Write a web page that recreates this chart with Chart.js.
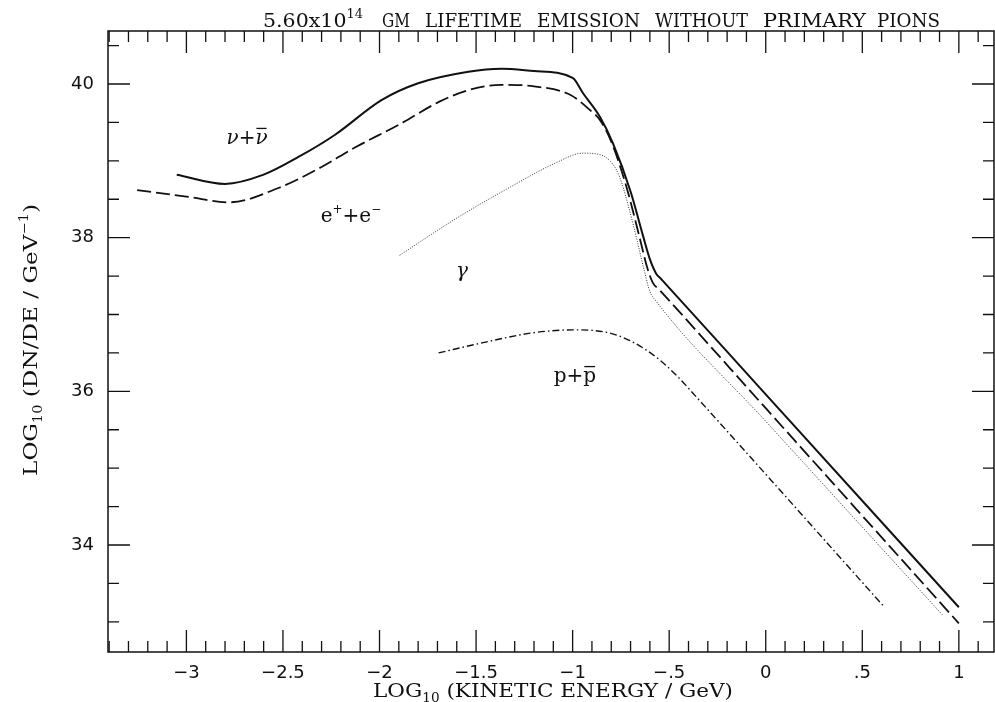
<!DOCTYPE html>
<html>
<head>
<meta charset="utf-8">
<script src="https://cdn.jsdelivr.net/npm/chart.js@4.4.1/dist/chart.umd.min.js"></script>
<style>
  html, body { margin: 0; padding: 0; background: #fff; }
  #wrap { position: relative; width: 995px; height: 702px; }
</style>
</head>
<body>
<div id="wrap"><canvas id="c" width="995" height="702"></canvas></div>
<script>
// log10 E (GeV) / log10 dN/dE
var nuX = [-3.05, -2.80, -2.60, -2.42, -2.23, -1.99, -1.80, -1.54, -1.37, -1.20, -1.00, -0.946, -0.858, -0.79, -0.70, -0.635, -0.60, -0.568, -0.54, 0.0, 1.0];
var nuY = [38.82, 38.70, 38.82, 39.05, 39.34, 39.79, 40.01, 40.16, 40.20, 40.17, 40.08, 39.88, 39.57, 39.22, 38.60, 38.02, 37.72, 37.535, 37.458, 35.96, 33.19];

var eeX = [-3.255, -2.99, -2.78, -2.52, -2.30, -2.13, -1.90, -1.69, -1.54, -1.37, -1.20, -1.013, -0.91, -0.858, -0.80, -0.72, -0.65, -0.615, -0.585, -0.55, 0.0, 1.0];
var eeY = [38.62, 38.53, 38.46, 38.65, 38.92, 39.17, 39.47, 39.77, 39.92, 39.99, 39.97, 39.86, 39.66, 39.53, 39.25, 38.65, 37.97, 37.62, 37.415, 37.32, 35.78, 32.98];

var gamX = [-1.896, -1.59, -1.35, -1.09, -0.946, -0.858, -0.79, -0.755, -0.71, -0.665, -0.63, -0.60, -0.565, 0.0, 0.915];
var gamY = [37.77, 38.27, 38.62, 38.97, 39.10, 39.08, 38.95, 38.78, 38.40, 37.95, 37.58, 37.30, 37.165, 35.61, 33.09];

var ppX = [-1.694, -1.47, -1.21, -1.00, -0.81, -0.68, -0.55, -0.44, -0.40, 0.615];
var ppY = [36.50, 36.63, 36.76, 36.80, 36.76, 36.63, 36.41, 36.15, 36.04, 33.19];

// axis ticks
var xMajor = [-3, -2.5, -2, -1.5, -1, -0.5, 0, 0.5, 1];
var xMajorText = ['\u22123', '\u22122.5', '\u22122', '\u22121.5', '\u22121', '\u2212.5', '0', '.5', '1'];
var yMajor = [34, 36, 38, 40];
var yMajorText = ['34', '36', '38', '40'];

// title words and the span each one takes in the figure
var titleWords = ['5.60x10|14', 'GM', 'LIFETIME', 'EMISSION', 'WITHOUT', 'PRIMARY', 'PIONS'];
var titleSpans = [[263, 363], [382, 410], [425, 522], [537, 640], [655, 748], [763, 866], [877, 940]];

// curve labels, anchored in data coords
var curveLabels = [
  { x: -2.686, y: 39.31, parts: [{ t: '\u03bd', it: 1 }, { t: '+' }, { t: '\u03bd', it: 1, over: 1 }] },
  { x: -2.148, y: 38.30, parts: [{ t: 'e' }, { t: '+', sup: 1 }, { t: '+e' }, { t: '\u2212', sup: 1 }] },
  { x: -1.573, y: 37.58, parts: [{ t: '\u03b3', it: 1 }] },
  { x: -0.988, y: 36.21, parts: [{ t: 'p+' }, { t: 'p', over: 1 }] }
];

var SERIF = '"DejaVu Serif", serif';
var SANS = '"DejaVu Sans", sans-serif';

function pts(xs, ys) {
  return xs.map(function (x, i) { return { x: x, y: ys[i] }; });
}

function partFont(p, size) {
  var s = (p.sub || p.sup) ? Math.round(size * 0.62) : size;
  return (p.it ? 'italic ' : '') + s + 'px ' + SERIF;
}

function richWidth(ctx, parts, size) {
  var w = 0;
  parts.forEach(function (p) { ctx.font = partFont(p, size); w += ctx.measureText(p.t).width; });
  return w;
}

// sub/superscripted text, left edge x, baseline y, optionally fitted to width fitW
function drawRich(ctx, parts, x, y, size, fitW) {
  var k = fitW ? fitW / richWidth(ctx, parts, size) : 1;
  ctx.save();
  ctx.translate(x, y);
  ctx.scale(k, 1);
  var cx = 0;
  parts.forEach(function (p) {
    ctx.font = partFont(p, size);
    var dy = p.sup ? -size * 0.45 : (p.sub ? size * 0.28 : 0);
    ctx.fillText(p.t, cx, dy);
    var w = ctx.measureText(p.t).width;
    if (p.over) {
      ctx.beginPath();
      ctx.lineWidth = 1.3;
      ctx.moveTo(cx + 1, -size * 0.78);
      ctx.lineTo(cx + w - 1, -size * 0.78);
      ctx.stroke();
    }
    cx += w;
  });
  ctx.restore();
}

var frame = {
  id: 'frame',
  afterDraw: function (chart) {
    var ctx = chart.ctx, a = chart.chartArea;
    var xs = chart.scales.x, ys = chart.scales.y;
    ctx.save();
    ctx.strokeStyle = '#111';
    ctx.fillStyle = '#111';
    ctx.lineWidth = 1.5;
    ctx.strokeRect(a.left, a.top, a.right - a.left, a.bottom - a.top);

    ctx.lineWidth = 1.3;
    ctx.beginPath();
    // x ticks every 0.1, majors every 0.5
    for (var i = -34; i <= 12; i++) {
      var px = xs.getPixelForValue(i / 10);
      if (px <= a.left + 1 || px >= a.right - 1) continue;
      var len = (i % 5 === 0) ? 22 : 11;
      ctx.moveTo(px, a.bottom); ctx.lineTo(px, a.bottom - len);
      ctx.moveTo(px, a.top); ctx.lineTo(px, a.top + len);
    }
    // y ticks every 0.5, majors every 2
    for (var j = 66; j <= 81; j++) {
      var py = ys.getPixelForValue(j / 2);
      if (py <= a.top + 1 || py >= a.bottom - 1) continue;
      var l2 = (j % 4 === 0) ? 22 : 11;
      ctx.moveTo(a.left, py); ctx.lineTo(a.left + l2, py);
      ctx.moveTo(a.right, py); ctx.lineTo(a.right - l2, py);
    }
    ctx.stroke();

    // tick labels
    ctx.font = '18px ' + SANS;
    ctx.textAlign = 'center';
    ctx.textBaseline = 'middle';
    xMajor.forEach(function (v, k) {
      ctx.fillText(xMajorText[k], xs.getPixelForValue(v), a.bottom + 21);
    });
    ctx.textAlign = 'right';
    yMajor.forEach(function (v, k) {
      ctx.fillText(yMajorText[k], a.left - 14, ys.getPixelForValue(v));
    });

    ctx.textAlign = 'left';
    ctx.textBaseline = 'alphabetic';

    // title, word by word
    titleWords.forEach(function (wd, k) {
      var bits = wd.split('|');
      var parts = bits.length > 1 ? [{ t: bits[0] }, { t: bits[1], sup: 1 }] : [{ t: wd }];
      var sp = titleSpans[k];
      drawRich(ctx, parts, sp[0], 27, 19, sp[1] - sp[0]);
    });

    // x axis title
    drawRich(ctx, [{ t: 'LOG' }, { t: '10', sub: 1 }, { t: ' (KINETIC ENERGY / GeV)' }], 373, 697, 19, 360);

    // y axis title
    ctx.save();
    ctx.translate(37, 476);
    ctx.rotate(-Math.PI / 2);
    drawRich(ctx, [{ t: 'LOG' }, { t: '10', sub: 1 }, { t: ' (DN/DE / GeV' }, { t: '\u22121', sup: 1 }, { t: ')' }], 0, 0, 19, 272);
    ctx.restore();

    // curve labels
    curveLabels.forEach(function (lb) {
      var w3 = richWidth(ctx, lb.parts, 20);
      drawRich(ctx, lb.parts, xs.getPixelForValue(lb.x) - w3 / 2, ys.getPixelForValue(lb.y) + 7, 20);
    });
    ctx.restore();
  }
};

function line(label, xs, ys, width, dash, color) {
  return {
    label: label,
    data: pts(xs, ys),
    showLine: true,
    borderColor: color,
    borderWidth: width,
    borderDash: dash,
    pointRadius: 0,
    cubicInterpolationMode: 'monotone',
    fill: false
  };
}

new Chart(document.getElementById('c'), {
  type: 'scatter',
  data: {
    datasets: [
      line('nu', nuX, nuY, 2, [], '#111'),
      line('ee', eeX, eeY, 1.8, [14, 5], '#111'),
      line('gamma', gamX, gamY, 1, [1, 1.5], '#333'),
      line('pp', ppX, ppY, 1.4, [7, 3, 1.5, 3], '#111')
    ]
  },
  options: {
    responsive: false,
    animation: false,
    devicePixelRatio: 1,
    layout: { padding: { left: 108, right: 1, top: 31, bottom: 50 } },
    plugins: { legend: { display: false }, tooltip: { enabled: false } },
    scales: {
      x: { type: 'linear', min: -3.406, max: 1.182, display: false },
      y: { type: 'linear', min: 32.607, max: 40.69, display: false }
    }
  },
  plugins: [frame]
});
</script>
</body>
</html>
